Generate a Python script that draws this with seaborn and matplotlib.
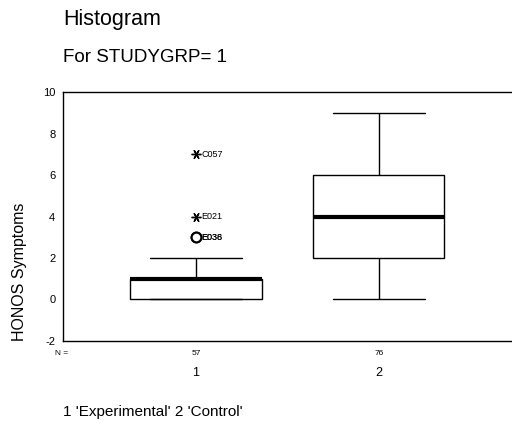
import numpy as np
import pandas as pd
import matplotlib
matplotlib.use("Agg")
import matplotlib.pyplot as plt
import seaborn as sns

# scores per group, given as (score, count)
grp1_scores = [0, 1, 2, 3, 4, 7]
grp1_counts = [20, 28, 5, 2, 1, 1]
grp2_scores = [0, 1, 2, 3, 4, 5, 6, 7, 8, 9]
grp2_counts = [6, 8, 10, 10, 8, 10, 10, 6, 4, 4]
groups = ["1", "2"]

# labelled outliers in group 1
out_values = [3, 3, 4, 7]
out_ids = ["E036", "E038", "E021", "C057"]
out_extreme = [False, False, True, True]

yticks = [-2, 0, 2, 4, 6, 8, 10]

df = pd.DataFrame({
    "grp": ["1"] * sum(grp1_counts) + ["2"] * sum(grp2_counts),
    "score": np.repeat(grp1_scores, grp1_counts).tolist() + np.repeat(grp2_scores, grp2_counts).tolist(),
})

sns.set_style("white")
plt.rcParams["font.family"] = ["Liberation Sans", "DejaVu Sans"]
plt.rcParams["text.color"] = "black"
plt.rcParams["axes.labelcolor"] = "black"

fig = plt.figure(figsize=(5.12, 4.23), dpi=100)
ax = fig.add_axes([0.123, 0.194, 0.877, 0.588])

sns.boxplot(data=df, x="grp", y="score", order=groups, ax=ax, width=0.716,
            color="white", linecolor="black", linewidth=1, showfliers=False,
            medianprops={"linewidth": 3, "color": "black"},
            capwidths=0.5)

# outliers drawn by hand so circles and asterisks differ
for v, lab, ext in zip(out_values, out_ids, out_extreme):
    if ext:
        ax.plot(0, v, marker=(6, 2, 90), ms=7, mew=1, color="black", ls="none")
    else:
        ax.plot(0, v, marker="o", ms=7, mfc="white", mec="black", mew=1.5, ls="none")
    ax.annotate(lab, (0, v), xytext=(4, 0), textcoords="offset points",
                fontsize=6.5, va="center", ha="left")

ax.set_ylim(-2, 10)
ax.set_xlim(-0.727, 1.727)
ax.set_yticks(yticks)
ax.set_yticklabels([str(t) for t in yticks], fontsize=8)
ax.set_xticks([0, 1])
ax.set_xticklabels(groups, fontsize=9)
ax.tick_params(axis="x", direction="out", length=2, width=2, pad=17, colors="black")
ax.tick_params(axis="y", direction="inout", length=3, width=2, pad=4, colors="black")
ax.set_xlabel("")
ax.set_ylabel("HONOS Symptoms", fontsize=11.5)
ax.yaxis.set_label_coords(-0.08, 0.277)

for s in ["left", "bottom", "top"]:
    ax.spines[s].set_visible(True)
    ax.spines[s].set_color("black")
    ax.spines[s].set_linewidth(1)
ax.spines["right"].set_visible(False)

# N = row under the axis
tr = ax.get_xaxis_transform()
ax.text(-0.771, -0.052, "N =", transform=tr, fontsize=6, ha="left", va="center")
for i, n in enumerate([sum(grp1_counts), sum(grp2_counts)]):
    ax.text(i, -0.052, str(n), transform=tr, fontsize=6, ha="center", va="center")

fig.text(63 / 512, 1 - 20 / 423, "Histogram", fontsize=15.5, ha="left", va="center")
fig.text(63 / 512, 1 - 57 / 423, "For STUDYGRP= 1", fontsize=13.5, ha="left", va="center")
fig.text(63 / 512, 1 - 412 / 423, "1 'Experimental' 2 'Control'", fontsize=11, ha="left", va="center")

fig.savefig("out.png", dpi=100)
